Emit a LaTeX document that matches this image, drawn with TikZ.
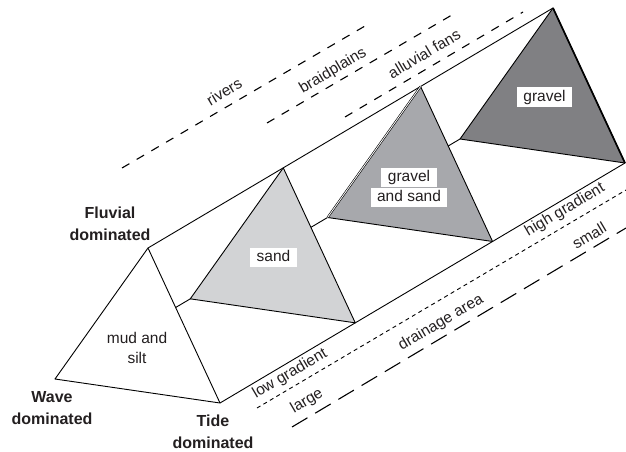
\documentclass[tikz,border=0pt]{standalone}
\usepackage{fontspec}
\setmainfont{Liberation Sans}
\usetikzlibrary{calc}
\definecolor{ink}{HTML}{231F20}
\definecolor{sandgray}{HTML}{D2D3D5}
\definecolor{mixgray}{HTML}{A7A8AC}
\definecolor{gravelgray}{HTML}{808083}
\begin{document}
\begin{tikzpicture}[x=1pt,y=-1pt,
  edge/.style={line width=0.9pt, line join=round},
  envline/.style={line width=1.1pt, dash pattern=on 8.5pt off 8.5pt},
  gradline/.style={line width=0.9pt, dash pattern=on 4pt off 3.5pt},
  arealine/.style={line width=1.1pt, dash pattern=on 18pt off 9pt},
  lab/.style={font=\fontsize{15.5}{20}\selectfont, text=ink, inner sep=0pt},
  slant/.style={lab, rotate=30.6, text height=11pt, text depth=3pt},
  corner/.style={font=\bfseries\fontsize{16}{21.5}\selectfont, text=ink, align=center, inner sep=0pt},
  tag/.style={lab, fill=white, inner xsep=6.5pt, inner ysep=2.3pt, text height=11.5pt, text depth=3.5pt},
]
\useasboundingbox (0,0) rectangle (626,452);

% front cross-section of the prism and its far end
\coordinate (F) at (148,248);
\coordinate (W) at (55,379);
\coordinate (T) at (220,403);
\coordinate (BF) at (553,8);
\coordinate (BW) at (460,139);
\coordinate (BT) at (625,163);

% intermediate cross-sections
\coordinate (SF) at ($(F)!0.334!(BF)$);
\coordinate (SW) at ($(W)!0.334!(BW)$);
\coordinate (ST) at ($(T)!0.334!(BT)$);
\coordinate (MF) at ($(F)!0.673!(BF)$);
\coordinate (MW) at ($(W)!0.673!(BW)$);
\coordinate (MT) at ($(T)!0.673!(BT)$);

% long edges of the prism
\draw[edge] (F) -- (BF);
\draw[edge] (W) -- (BW);
\draw[edge] (T) -- (BT);

% cross-sections, back to front
\filldraw[edge, fill=gravelgray] (BF) -- (BW) -- (BT) -- cycle;
\draw[line width=1.7pt] (BF) -- (BT);
\filldraw[edge, fill=mixgray] (MF) -- (MW) -- (MT) -- cycle;
\draw[line width=0.6pt, double=white, double distance=0.8pt] (MF) -- (MW);
\filldraw[edge, fill=sandgray] (SF) -- (SW) -- (ST) -- cycle;
\filldraw[edge, fill=white] (F) -- (W) -- (T) -- cycle;

% sediment labels
\node[lab, align=center] (mud) at (137,348) {mud and\\silt};
\node[tag] (sand) at (273.5,257.5) {sand};
\node[tag] (mixA) at (409,177.5) {gravel};
\node[tag, anchor=north] (mixB) at (mixA.south) {and sand};
\node[tag] (gravel) at (544.5,97) {gravel};

% process end-members
\node[corner] (fluvial) at (110,224) {Fluvial\\dominated};
\node[corner] (wave) at (52,408) {Wave\\dominated};
\node[corner] (tide) at (213,432) {Tide\\dominated};

% depositional environments
\coordinate (a1) at (122,168);
\coordinate (a2) at (365,26);
\coordinate (b1) at (267,123);
\coordinate (b2) at (457,12);
\coordinate (c1) at (345,117);
\coordinate (c2) at (523,12);
\draw[envline] (a1) -- (a2);
\draw[envline] (b1) -- (b2);
\draw[envline] (c1) -- (c2);
\node[slant] (rivers) at (225,93) {rivers};
\node[slant] (braid) at (333,71) {braidplains};
\node[slant] (fans) at (425,55) {alluvial fans};

% gradient and drainage area trends
\coordinate (g1) at (257,408);
\coordinate (g2) at (626,190);
\coordinate (d1) at (292,427);
\coordinate (d2) at (626,228);
\draw[gradline] (g1) -- (g2);
\draw[arealine] (d1) -- (d2);
\node[slant] (low) at (290,374) {low gradient};
\node[slant] (high) at (565,210) {high gradient};
\node[slant] (large) at (307,401) {large};
\node[slant] (area) at (441,323) {drainage area};
\node[slant] (small) at (590,237) {small};
\end{tikzpicture}
\end{document}
